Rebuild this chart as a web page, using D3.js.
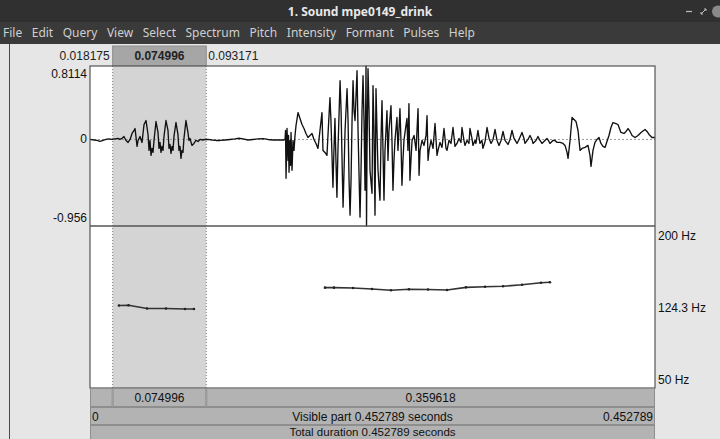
<!DOCTYPE html>
<html>
<head>
<meta charset="utf-8">
<script src="https://cdn.jsdelivr.net/npm/d3@7"></script>
<style>
  html, body { margin: 0; padding: 0; background: #e6e6e6; }
  svg { display: block; }
</style>
</head>
<body>
<svg id="win" width="720" height="439"></svg>
<script>
// ---- Data -------------------------------------------------------------
const windowTitle = "1. Sound mpe0149_drink";
const menuItems = ["File", "Edit", "Query", "View", "Select", "Spectrum", "Pitch", "Intensity", "Formant", "Pulses", "Help"];

const totalDuration = 0.452789;          // seconds
const selectionStart = 0.018175;         // seconds
const selectionEnd = 0.093171;           // seconds
const ampMax = 0.8114;
const ampMin = -0.956;
const pitchTop = 200;                    // Hz
const pitchBottom = 50;                  // Hz
const pitchCursorHz = 124.3;

// Sound samples (time in ms, amplitude in Pa)
const waveTimeMs = [
  0, 3.2, 5.6, 8.0, 10.4, 12.8, 15.2, 17.6,
  20.0, 22.4, 24.0, 25.6, 27.2, 28.9, 30.5, 32.1, 33.7, 35.3, 36.1, 37.7, 38.5, 40.1, 41.7, 43.3, 44.9,
  46.5, 47.3, 48.1, 48.9, 49.7, 50.5, 51.3, 52.9, 54.5, 55.3, 56.1, 56.9, 57.7, 58.5, 59.3, 60.9,
  62.5, 63.3, 64.1, 64.9, 65.7, 66.5, 67.3, 68.9, 70.5, 71.3, 72.1, 72.9, 73.7, 74.5, 75.3, 76.9,
  78.5, 79.3, 80.1, 81.7, 83.3, 84.9, 86.6, 88.2, 90.6, 92.2,
  94.6, 97.8, 101.0, 104.2, 108.2, 112.2, 116.2, 119.4, 122.6, 126.6, 130.6, 134.6, 138.6, 142.6, 146.7, 150.7, 155.5,
  156.3, 156.7, 157.1, 157.9, 158.7, 159.1, 159.5, 160.3, 160.7, 161.1, 161.9, 162.7, 163.5, 164.3, 165.1,
  166.7, 168.3, 169.9, 171.5, 173.1, 174.7, 176.3, 177.9, 179.5, 181.1, 182.7, 184.3, 185.9, 186.7, 188.3,
  189.9, 190.7, 192.3, 193.1, 194.7, 195.5, 196.3, 197.1, 197.9, 198.7, 200.4, 201.2, 202.0, 202.8, 203.6,
  204.4, 206.0, 206.8, 207.6, 208.4, 209.2, 210.0, 210.8, 211.6, 212.4, 214.0, 214.8, 216.4, 217.2, 218.0,
  218.8, 219.6, 220.4, 221.2, 221.6, 222.0, 222.8, 223.6, 224.4, 226.0, 226.8, 227.6, 228.4, 229.2, 230.0,
  230.8, 232.4, 233.2, 234.0, 234.8, 235.6, 236.4, 238.0, 238.8, 239.6, 241.2, 242.0, 242.8, 243.6, 244.4,
  246.0, 246.8, 247.6, 248.4, 249.2, 250.0, 250.8, 251.6, 253.2, 254.0, 254.8, 255.6, 256.4, 257.2, 258.1,
  259.7, 261.3, 262.9, 263.7, 264.5, 266.1, 267.7, 269.3, 270.1, 270.9, 271.7, 273.3, 274.9, 276.5, 278.1,
  278.9, 280.5, 282.1, 283.7, 285.3, 286.1, 287.7, 289.3, 290.9, 292.5, 294.1, 295.7, 297.3, 298.1, 299.7,
  300.5, 302.1, 303.7, 304.5, 306.1, 306.9, 308.5, 309.3, 310.9, 312.5, 314.1, 314.9, 316.6, 318.2, 319.8,
  321.4, 323.0, 324.6, 326.2, 327.8, 329.4, 331.0, 332.6, 335.0, 336.6, 338.2, 339.8, 342.2, 343.8, 346.2,
  347.8, 348.6, 351.0, 352.6, 354.2, 355.0, 357.4, 359.0, 360.6, 362.2, 364.6, 366.2, 367.8, 368.6, 371.0,
  372.7, 374.3, 376.7, 379.1, 380.7, 382.3, 383.1, 384.7, 386.3, 387.9, 389.5, 391.1, 392.7, 394.3, 396.7,
  399.1, 400.7, 401.5, 403.1, 404.7, 406.3, 407.9, 409.5, 411.1, 412.7, 414.3, 415.9, 417.5, 419.1, 421.5,
  423.1, 425.5, 427.9, 429.6, 431.2, 432.8, 434.4, 436.8, 439.2, 441.6, 444.8, 446.4, 448.0, 450.4, 452.8
];
const waveAmp = [
  0, -0.006, -0.011, -0.022, -0.011, 0, 0.006, 0,
  0.006, 0.011, 0, 0.011, 0.033, -0.011, -0.033, 0, 0.066, 0.099, 0.121, -0.077, -0.011, 0.033, -0.033, 0.165, 0.209,
  0.055, -0.121, -0.011, -0.176, -0.099, -0.143, -0.011, 0.198, 0.077, -0.099, -0.033, -0.143, -0.077, -0.121, 0.033, 0.209,
  0.099, -0.099, -0.055, -0.154, -0.077, -0.121, 0.033, 0.187, 0.055, -0.121, -0.077, -0.209, -0.121, -0.143, 0.011, 0.209,
  0.077, -0.011, 0.011, -0.066, -0.044, -0.011, -0.022, 0, -0.006, 0,
  0, -0.006, -0.011, -0.011, -0.006, 0, 0.006, 0.013, 0.006, -0.006, 0, 0.006, 0.009, 0, -0.006, -0.006, -0.006,
  0, 0.099, -0.429, 0.121, -0.231, 0.044, -0.363, -0.011, -0.286, 0.077, -0.341, -0.011, -0.121, 0.044, 0.154,
  0.297, 0.231, 0.165, 0.121, 0.066, 0.022, 0.044, 0.066, 0, -0.044, -0.099, 0.099, 0.297, -0.121, -0.143,
  -0.176, 0.044, 0.462, 0.209, -0.528, -0.121, 0.231, -0.231, -0.638, -0.121, 0.649, 0.319, -0.231, -0.748, -0.341,
  0.099, 0.561, 0.209, -0.451, -0.836, -0.451, 0.209, 0.649, 0.319, 0.209, 0.759, 0.099, -0.858, -0.341, 0.319,
  0.704, 0.209, -0.561, 0.8114, -0.956, -0.121, 0.781, 0.319, -0.341, -0.594, 0.594, 0.099, -0.836, 0.561, 0.099,
  -0.341, -0.671, -0.011, 0.429, -0.121, -0.671, -0.121, 0.319, -0.231, 0.099, 0.374, -0.011, -0.561, -0.231, -0.011,
  0.242, -0.121, 0.099, 0.341, -0.011, -0.506, -0.231, -0.011, 0.154, 0.231, -0.121, 0.396, -0.451, -0.231, -0.011,
  0.044, -0.121, 0.341, -0.396, -0.121, -0.011, -0.066, 0.044, 0.264, -0.231, -0.121, -0.011, -0.099, 0.176, -0.176,
  -0.121, -0.033, -0.088, 0.121, -0.099, -0.121, -0.011, -0.044, 0.132, -0.077, -0.044, 0.011, -0.033, 0.132, -0.011,
  -0.066, -0.011, -0.044, 0.121, 0.011, -0.066, -0.011, -0.044, 0.099, -0.044, -0.011, -0.099, -0.022, 0.132, 0.011,
  -0.044, 0, 0.110, -0.011, -0.066, -0.011, 0.088, -0.011, -0.055, 0, 0.099, 0.011, -0.044, 0, 0.077,
  0.011, -0.044, 0, 0.044, 0, -0.044, -0.011, 0.033, -0.011, -0.044, -0.011, 0.011, -0.022, -0.044, -0.011,
  -0.011, -0.033, -0.033, -0.044, -0.066, -0.143, -0.209, -0.011, 0.242, 0.220, 0.198, 0.099, -0.121, -0.099, -0.088,
  -0.066, -0.176, -0.297, -0.121, -0.033, 0, 0.022, -0.044, -0.077, -0.088, -0.022, 0.044, 0.132, 0.187, 0.176,
  0.165, 0.077, 0.066, 0.088, 0.121, 0.088, 0.044, 0.022, 0.044, 0.077, 0.110, 0.088, 0.055, 0.022, 0.022
];

// Pitch contour, two voiced stretches (time in ms, F0 in Hz)
const pitch1TimeMs = [23.2, 30.9, 45.7, 60.9, 76.1, 83.3];
const pitch1Hz     = [126.4, 126.6, 123.6, 123.6, 123.1, 123.1];
const pitch2TimeMs = [188.3, 195.5, 210.8, 226.0, 241.2, 255.6, 270.9, 286.1, 301.3, 316.6, 331.0, 346.2, 361.4, 368.6];
const pitch2Hz     = [142.9, 142.9, 142.6, 141.7, 140.5, 141.4, 141.2, 140.7, 143.2, 143.8, 144.2, 145.6, 147.5, 147.9];

// ---- Drawing -----------------------------------------------------------
const svg = d3.select("#win");
const W = 720, H = 439;
const uiFont = "'Noto Sans', 'Open Sans', sans-serif";
const plotFont = "'Liberation Sans', Arial, sans-serif";

// Geometry of the editor panes
const L = 90, R = 655;
const waveTop = 66, waveBot = 226, pitchBot = 388;
const rowHs = [19, 18, 14];

const x = d3.scaleLinear().domain([0, totalDuration * 1000]).range([L, R]);
const yAmp = d3.scaleLinear().domain([ampMin, ampMax]).range([waveBot, waveTop]);
const yHz = d3.scaleLinear().domain([pitchBottom, pitchTop]).range([pitchBot, waveBot]);

// background
svg.append("rect").attr("width", W).attr("height", H).attr("fill", "#e6e6e6");
svg.append("line").attr("x1", 9.5).attr("x2", 9.5).attr("y1", 44).attr("y2", H)
  .attr("stroke", "#4a4a4a").attr("stroke-width", 1);

// title bar + menu bar
svg.append("rect").attr("width", W).attr("height", 22).attr("fill", "#303030");
svg.append("rect").attr("y", 22).attr("width", W).attr("height", 22).attr("fill", "#3a3a3a");
svg.append("text").attr("x", W / 2).attr("y", 15.5).attr("text-anchor", "middle")
  .attr("font-family", uiFont).attr("font-weight", "bold").attr("font-size", 12)
  .attr("fill", "#e8e8e8").text(windowTitle);

// window buttons
svg.append("line").attr("x1", 686).attr("x2", 692).attr("y1", 11.5).attr("y2", 11.5)
  .attr("stroke", "#bdbdbd").attr("stroke-width", 1.2);
svg.append("path").attr("d", "M701,14 L706,9 M704,9 L706,9 L706,11 M701,12 L701,14 L703,14")
  .attr("stroke", "#bdbdbd").attr("fill", "none").attr("stroke-width", 1);
svg.append("circle").attr("cx", 718).attr("cy", 11.5).attr("r", 6).attr("fill", "#8a8a8a");

const menuG = svg.append("g").attr("font-family", uiFont).attr("font-size", 12).attr("fill", "#cfcfcf");
const menuTexts = menuG.selectAll("text").data(menuItems).join("text").attr("y", 37).text(d => d);
const widths = [];
menuTexts.each(function () { widths.push(this.getComputedTextLength()); });
const menuStart = 3, menuEnd = 475;
const gap = (menuEnd - menuStart - d3.sum(widths)) / (menuItems.length - 1);
let cx = menuStart;
menuTexts.attr("x", (d, i) => { const v = cx; cx += widths[i] + gap; return v; });

// top time row with selected stretch
const sx0 = x(selectionStart * 1000), sx1 = x(selectionEnd * 1000);
svg.append("rect").attr("x", sx0).attr("y", 46).attr("width", sx1 - sx0).attr("height", waveTop - 46)
  .attr("fill", "#a6a6a6").attr("stroke", "#8c8c8c");
const fmt6 = d3.format(".6f");
const topRow = svg.append("g").attr("font-family", plotFont).attr("font-size", 12).attr("fill", "#222");
topRow.append("text").attr("x", sx0 - 3).attr("y", 60).attr("text-anchor", "end").text(fmt6(selectionStart));
topRow.append("text").attr("x", (sx0 + sx1) / 2).attr("y", 60).attr("text-anchor", "middle")
  .attr("font-weight", "bold").text(fmt6(selectionEnd - selectionStart));
topRow.append("text").attr("x", sx1 + 2).attr("y", 60).text(fmt6(selectionEnd));

// plot panes
svg.append("rect").attr("x", L).attr("y", waveTop).attr("width", R - L).attr("height", pitchBot - waveTop).attr("fill", "#fff");
svg.append("rect").attr("x", sx0).attr("y", waveTop).attr("width", sx1 - sx0).attr("height", pitchBot - waveTop).attr("fill", "#d4d4d4");
[sx0, sx1].forEach(v => {
  svg.append("line").attr("x1", v).attr("x2", v).attr("y1", waveTop).attr("y2", pitchBot)
    .attr("stroke", "#7a7a7a").attr("stroke-dasharray", "1,2");
});

// zero line
svg.append("line").attr("x1", L).attr("x2", R).attr("y1", yAmp(0)).attr("y2", yAmp(0))
  .attr("stroke", "#9a9a9a").attr("stroke-dasharray", "2,2");

// waveform
const wave = d3.zip(waveTimeMs, waveAmp);
svg.append("path").datum(wave)
  .attr("d", d3.line().x(d => x(d[0])).y(d => yAmp(d[1])))
  .attr("fill", "none").attr("stroke", "#111").attr("stroke-width", 1.35).attr("stroke-linejoin", "round");

// pitch contour
[[pitch1TimeMs, pitch1Hz], [pitch2TimeMs, pitch2Hz]].forEach(([t, f]) => {
  const pts = d3.zip(t, f);
  svg.append("path").datum(pts)
    .attr("d", d3.line().x(d => x(d[0])).y(d => yHz(d[1])))
    .attr("fill", "none").attr("stroke", "#333").attr("stroke-width", 1.6);
  svg.append("g").selectAll("circle").data(pts).join("circle")
    .attr("cx", d => x(d[0])).attr("cy", d => yHz(d[1])).attr("r", 1.3).attr("fill", "#222");
});

// pane frames
svg.append("rect").attr("x", L).attr("y", waveTop).attr("width", R - L).attr("height", pitchBot - waveTop)
  .attr("fill", "none").attr("stroke", "#555").attr("stroke-width", 1.2);
svg.append("line").attr("x1", L).attr("x2", R).attr("y1", waveBot).attr("y2", waveBot)
  .attr("stroke", "#555").attr("stroke-width", 1.6);

// amplitude labels
const ampLab = svg.append("g").attr("font-family", plotFont).attr("font-size", 12).attr("fill", "#111")
  .attr("text-anchor", "end");
[[ampMax, "0.8114"], [0, "0"], [ampMin, "-0.956"]].forEach(([v, s], i) => {
  const yy = i === 0 ? yAmp(v) + 12 : (i === 2 ? yAmp(v) - 4 : yAmp(v) + 4);
  ampLab.append("text").attr("x", L - 3).attr("y", yy).text(s);
});

// pitch labels
const hzLab = svg.append("g").attr("font-family", plotFont).attr("font-size", 12).attr("fill", "#111");
hzLab.append("text").attr("x", R + 3).attr("y", yHz(pitchTop) + 14).text(pitchTop + " Hz");
hzLab.append("text").attr("x", R + 3).attr("y", yHz(pitchCursorHz) + 4).text(pitchCursorHz + " Hz");
hzLab.append("text").attr("x", R + 3).attr("y", yHz(pitchBottom) - 4).text(pitchBottom + " Hz");

// bottom bars
const barFill = "#b3b3b3";
const rows = [pitchBot, pitchBot + rowHs[0], pitchBot + rowHs[0] + rowHs[1]];
function bar(x0, x1, y0, h) {
  svg.append("rect").attr("x", x0 + 0.5).attr("y", y0 + 0.5).attr("width", x1 - x0 - 1).attr("height", h - 1)
    .attr("fill", barFill).attr("stroke", "#8e8e8e");
}
bar(L, sx0, rows[0], rowHs[0]);
bar(sx0, sx1, rows[0], rowHs[0]);
bar(sx1, R, rows[0], rowHs[0]);
bar(L, R, rows[1], rowHs[1]);
bar(L, R, rows[2], rowHs[2] + 4);
const bt = svg.append("g").attr("font-family", plotFont).attr("font-size", 12).attr("fill", "#111");
bt.append("text").attr("x", (sx0 + sx1) / 2).attr("y", rows[0] + 14).attr("text-anchor", "middle")
  .text(fmt6(selectionEnd - selectionStart));
bt.append("text").attr("x", (sx1 + R) / 2).attr("y", rows[0] + 14).attr("text-anchor", "middle")
  .text(fmt6(totalDuration - selectionEnd));
bt.append("text").attr("x", L + 2).attr("y", rows[1] + 14).text("0");
bt.append("text").attr("x", (L + R) / 2).attr("y", rows[1] + 14).attr("text-anchor", "middle")
  .text("Visible part " + fmt6(totalDuration) + " seconds");
bt.append("text").attr("x", R - 2).attr("y", rows[1] + 14).attr("text-anchor", "end").text(fmt6(totalDuration));
bt.append("text").attr("x", (L + R) / 2).attr("y", rows[2] + 11).attr("text-anchor", "middle")
  .attr("font-size", 11.5).text("Total duration " + fmt6(totalDuration) + " seconds");
</script>
</body>
</html>
